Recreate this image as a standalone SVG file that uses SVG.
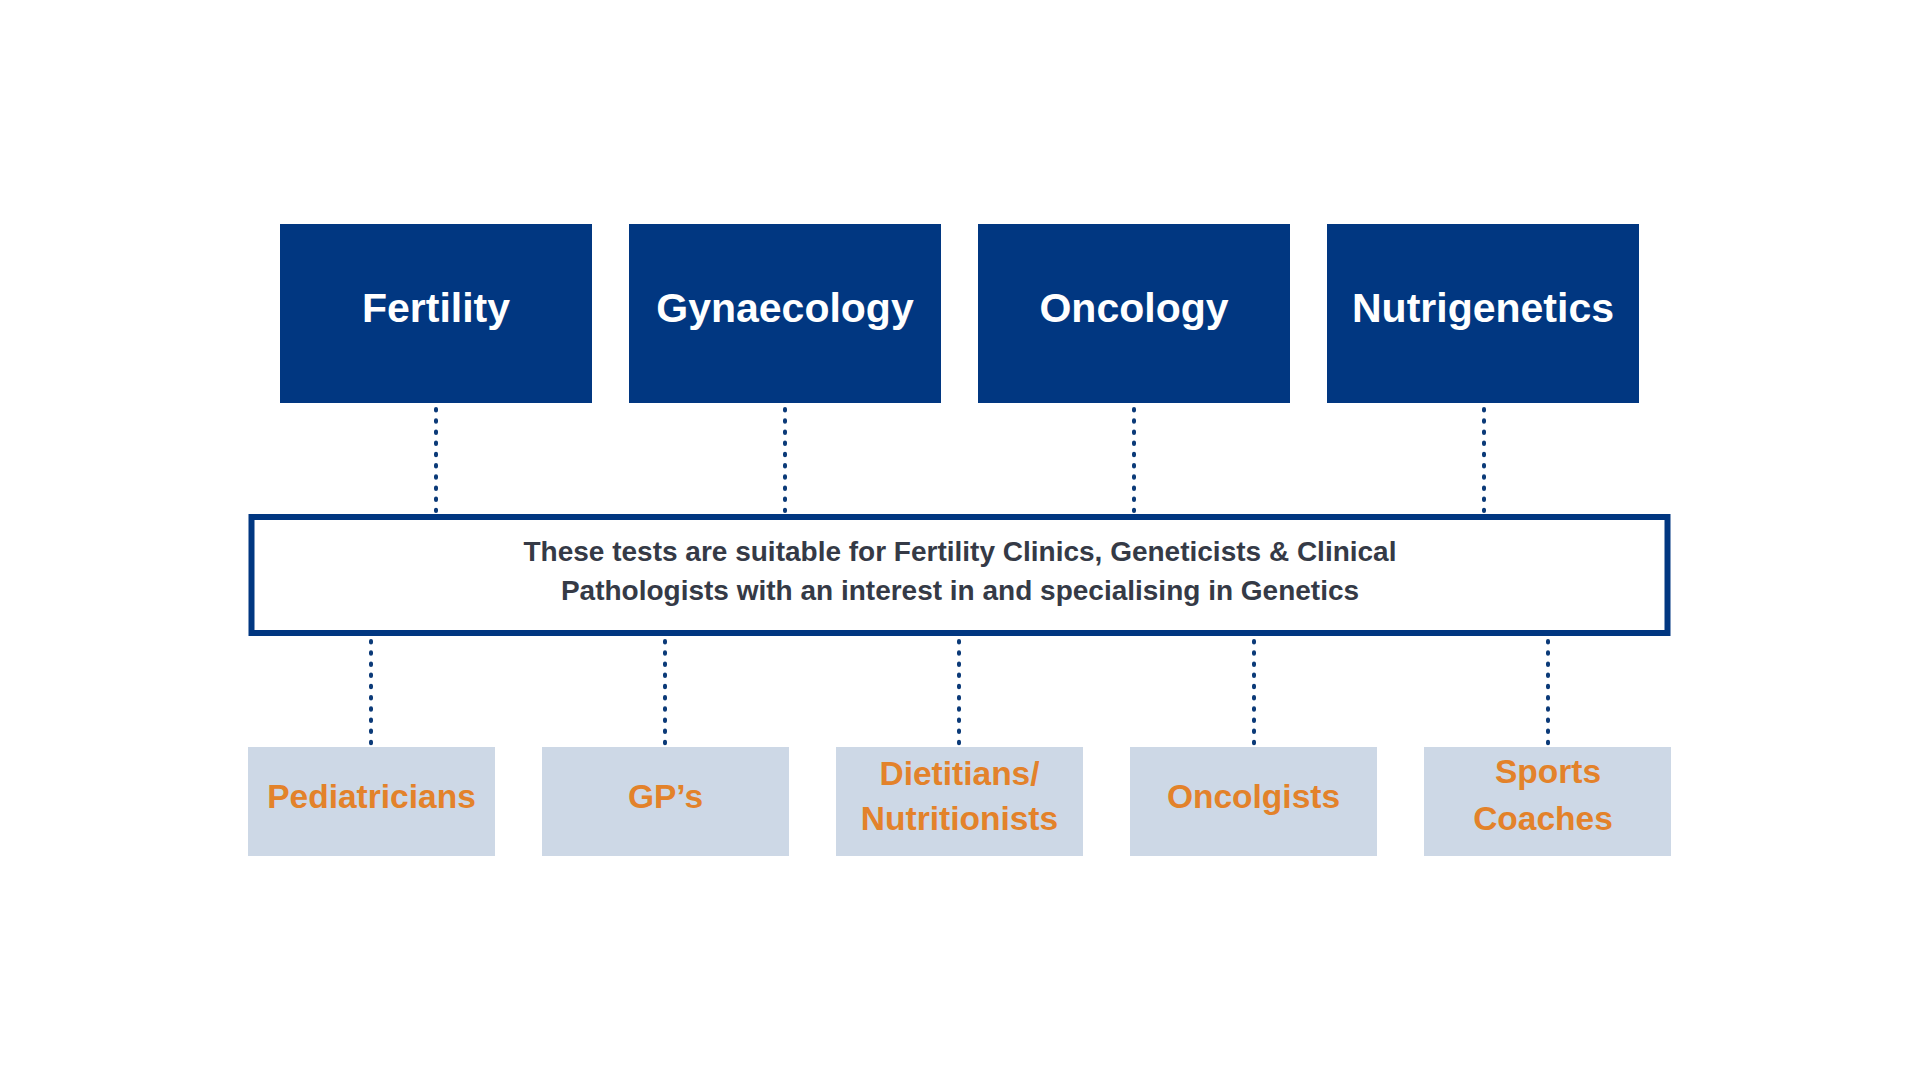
<svg xmlns="http://www.w3.org/2000/svg" width="1920" height="1080" viewBox="0 0 1920 1080">
  <style>
    .top { fill: #013781; }
    .topt { fill: #ffffff; font-family: "Liberation Sans", Arial, sans-serif; font-weight: bold; font-size: 41px; text-anchor: middle; }
    .mid { fill: #ffffff; stroke: #013781; stroke-width: 6; }
    .midt { fill: #353a46; font-family: "Liberation Sans", Arial, sans-serif; font-weight: bold; font-size: 28px; text-anchor: middle; }
    .bot { fill: #cdd8e6; }
    .bott { fill: #e3822a; font-family: "Liberation Sans", Arial, sans-serif; font-weight: bold; font-size: 33.5px; text-anchor: middle; }
    .dot { stroke: #0b3a78; stroke-width: 4; stroke-linecap: round; stroke-dasharray: 1.5 9.7; fill: none; }
  </style>
  <rect width="1920" height="1080" fill="#ffffff"/>
  <g id="connectors">
    <line class="dot" x1="436" y1="409" x2="436" y2="511"/>
    <line class="dot" x1="785" y1="409" x2="785" y2="511"/>
    <line class="dot" x1="1134" y1="409" x2="1134" y2="511"/>
    <line class="dot" x1="1484" y1="409" x2="1484" y2="511"/>
    <line class="dot" x1="371" y1="641" x2="371" y2="744"/>
    <line class="dot" x1="665" y1="641" x2="665" y2="744"/>
    <line class="dot" x1="959" y1="641" x2="959" y2="744"/>
    <line class="dot" x1="1254" y1="641" x2="1254" y2="744"/>
    <line class="dot" x1="1548" y1="641" x2="1548" y2="744"/>
  </g>
  <g id="fertility"><rect class="top" x="280" y="224" width="312" height="179"/><text class="topt" x="436" y="322">Fertility</text></g>
  <g id="gynaecology"><rect class="top" x="629" y="224" width="312" height="179"/><text class="topt" x="785" y="322">Gynaecology</text></g>
  <g id="oncology"><rect class="top" x="978" y="224" width="312" height="179"/><text class="topt" x="1134" y="322">Oncology</text></g>
  <g id="nutrigenetics"><rect class="top" x="1327" y="224" width="312" height="179"/><text class="topt" x="1483" y="322">Nutrigenetics</text></g>
  <g id="summary">
    <rect class="mid" x="251.5" y="517" width="1416" height="116"/>
    <text class="midt" x="960" y="561">These tests are suitable for Fertility Clinics, Geneticists &amp; Clinical</text>
    <text class="midt" x="960" y="600">Pathologists with an interest in and specialising in Genetics</text>
  </g>
  <g id="pediatricians"><rect class="bot" x="248" y="747" width="247" height="109"/><text class="bott" x="371.5" y="808">Pediatricians</text></g>
  <g id="gps"><rect class="bot" x="542" y="747" width="247" height="109"/><text class="bott" x="665.5" y="808">GP’s</text></g>
  <g id="dietitians"><rect class="bot" x="836" y="747" width="247" height="109"/><text class="bott" x="959.5" y="785">Dietitians/</text><text class="bott" x="959.5" y="830">Nutritionists</text></g>
  <g id="oncologists"><rect class="bot" x="1130" y="747" width="247" height="109"/><text class="bott" x="1253.5" y="808">Oncolgists</text></g>
  <g id="sports"><rect class="bot" x="1424" y="747" width="247" height="109"/><text class="bott" x="1548" y="783">Sports</text><text class="bott" x="1543" y="830">Coaches</text></g>
</svg>
